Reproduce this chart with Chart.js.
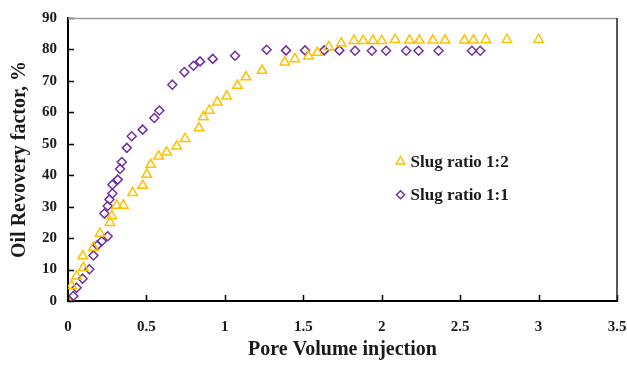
<!DOCTYPE html>
<html>
<head>
<meta charset="utf-8">
<script src="https://cdn.jsdelivr.net/npm/chart.js@4/dist/chart.umd.min.js"></script>
<style>
  html, body { margin: 0; padding: 0; background: #fff; }
  #wrap { width: 627px; height: 366px; }
</style>
</head>
<body>
<div id="wrap"><canvas id="slugChart" width="627" height="366"></canvas></div>
<script>
// Slug ratio 1:2 (yellow triangles)
const pv12 = [0, 0.023, 0.055, 0.098, 0.094, 0.162, 0.204, 0.268, 0.279, 0.31, 0.353, 0.412, 0.476, 0.502,
    0.527, 0.578, 0.629, 0.693, 0.746, 0.835, 0.863, 0.901, 0.952, 1.012, 1.08, 1.135, 1.237, 1.382,
    1.446, 1.533, 1.59, 1.663, 1.742, 1.823, 1.882, 1.944, 2.0, 2.085, 2.177, 2.24, 2.326, 2.404,
    2.527, 2.585, 2.664, 2.798, 3.0];
const rf12 = [0, 4.8, 7.9, 10.6, 14.3, 17, 21.5, 24.9, 27, 30.4, 30.4, 34.4, 36.7, 40.2,
    43.4, 46, 47.3, 49.2, 51.6, 55, 58.5, 60.6, 63.2, 65.1, 68.5, 71.2, 73.3, 75.9,
    77, 77.8, 79, 80.8, 82, 82.8, 82.8, 82.8, 82.8, 83.1, 82.9, 82.9, 82.9, 82.9,
    82.9, 82.9, 83.1, 83.1, 83.1];

// Slug ratio 1:1 (purple diamonds)
const pv11 = [0.006, 0.034, 0.055, 0.093, 0.136, 0.162, 0.187, 0.215, 0.253, 0.232, 0.253, 0.264, 0.283,
    0.283, 0.317, 0.332, 0.343, 0.375, 0.406, 0.476, 0.55, 0.582, 0.665, 0.742, 0.8, 0.842, 0.923,
    1.065, 1.266, 1.39, 1.511, 1.633, 1.73, 1.83, 1.937, 2.028, 2.156, 2.235, 2.362, 2.575, 2.628];
const rf11 = [0.2, 1.6, 4.2, 7.1, 10.1, 14.5, 17.7, 19, 20.6, 27.8, 30.2, 32.3, 34.2,
    37, 38.6, 42, 44.2, 48.7, 52.4, 54.5, 58.2, 60.6, 68.8, 72.8, 74.8, 76.2, 77,
    78, 79.9, 79.7, 79.7, 79.7, 79.7, 79.6, 79.6, 79.6, 79.6, 79.6, 79.6, 79.6, 79.6];

const seriesNames = ['Slug ratio 1:2', 'Slug ratio 1:1'];
const xTitle = 'Pore Volume injection';
const yTitle = 'Oil Revovery factor, %';

const yellow = '#FFC000';
const purple = '#7030A0';
const serif = "'Liberation Serif', 'DejaVu Serif', serif";

function toPoints(xs, ys) {
    return xs.map((x, i) => ({ x: x, y: ys[i] }));
}

// inward tick marks, box border and the legend placed inside the plot
const decorations = {
    id: 'decorations',
    afterDraw(chart) {
        const ctx = chart.ctx;
        const area = chart.chartArea;
        const xs = chart.scales.x;
        const ys = chart.scales.y;
        ctx.save();
        ctx.strokeStyle = '#000';
        ctx.lineWidth = 1.5;
        ctx.beginPath();
        xs.ticks.forEach(t => {
            const px = Math.round(xs.getPixelForValue(t.value)) + 0.5;
            ctx.moveTo(px, area.bottom);
            ctx.lineTo(px, area.bottom - 6);
        });
        ys.ticks.forEach(t => {
            const py = Math.round(ys.getPixelForValue(t.value)) + 0.5;
            ctx.moveTo(area.left, py);
            ctx.lineTo(area.left + 6, py);
        });
        ctx.stroke();

        // top and right edge of the plot box
        ctx.lineWidth = 1.5;
        ctx.strokeStyle = '#9a9a9a';
        ctx.beginPath();
        ctx.moveTo(area.left, area.top + 0.5);
        ctx.lineTo(area.right, area.top + 0.5);
        ctx.stroke();
        ctx.strokeStyle = '#222';
        ctx.beginPath();
        ctx.moveTo(area.right, area.top);
        ctx.lineTo(area.right, area.bottom);
        ctx.stroke();

        // legend
        const lx = xs.getPixelForValue(2.12);
        const rows = [ys.getPixelForValue(44.4), ys.getPixelForValue(33.8)];
        ctx.font = 'bold 17px ' + serif;
        ctx.textBaseline = 'middle';
        chart.data.datasets.forEach((ds, i) => {
            ctx.strokeStyle = ds.borderColor;
            ctx.fillStyle = 'rgba(0,0,0,0)';
            ctx.lineWidth = ds.borderWidth;
            Chart.helpers.drawPoint(ctx, {
                pointStyle: ds.pointStyle,
                radius: ds.pointRadius - 0.5,
                borderWidth: ds.borderWidth
            }, lx, rows[i]);
            ctx.fillStyle = '#1a1a1a';
            ctx.fillText(ds.label, lx + 10, rows[i] + 1);
        });
        ctx.restore();
    }
};

const ctx = document.getElementById('slugChart').getContext('2d');
Chart.defaults.font.family = serif;

new Chart(ctx, {
    type: 'scatter',
    data: {
        datasets: [
            {
                label: seriesNames[0],
                data: toPoints(pv12, rf12),
                pointStyle: 'triangle',
                pointRadius: 5.5,
                borderColor: yellow,
                backgroundColor: 'rgba(0,0,0,0)',
                borderWidth: 1.5
            },
            {
                label: seriesNames[1],
                data: toPoints(pv11, rf11),
                pointStyle: 'rectRot',
                pointRadius: 4.5,
                borderColor: purple,
                backgroundColor: 'rgba(0,0,0,0)',
                borderWidth: 1.5
            }
        ]
    },
    options: {
        responsive: false,
        animation: false,
        layout: { padding: { left: 0, right: 10, top: 18, bottom: 0 } },
        scales: {
            x: {
                type: 'linear',
                min: 0,
                max: 3.5,
                ticks: {
                    stepSize: 0.5,
                    color: '#1a1a1a',
                    font: { size: 15, weight: 'bold' },
                    padding: 17,
                    callback: v => String(v)
                },
                grid: { display: false, drawTicks: false },
                border: { color: '#000', width: 2 },
                title: {
                    display: true,
                    text: xTitle,
                    color: '#1a1a1a',
                    font: { size: 20, weight: 'bold' },
                    padding: { top: 8 }
                },
                afterFit(scale) {
                    scale.height = 65;
                    scale.paddingLeft = 0;
                    scale.paddingRight = 0;
                }
            },
            y: {
                min: 0,
                max: 90,
                ticks: {
                    stepSize: 10,
                    color: '#1a1a1a',
                    font: { size: 15, weight: 'bold' },
                    padding: 11
                },
                grid: { display: false, drawTicks: false },
                border: { color: '#000', width: 2 },
                title: {
                    display: true,
                    text: yTitle,
                    color: '#1a1a1a',
                    font: { size: 20, weight: 'bold' },
                    padding: { top: 8, bottom: 4 }
                },
                afterFit(scale) {
                    scale.width = 68;
                    scale.paddingTop = 0;
                    scale.paddingBottom = 0;
                }
            }
        },
        plugins: {
            legend: { display: false },
            tooltip: { enabled: false }
        }
    },
    plugins: [decorations]
});
</script>
</body>
</html>
